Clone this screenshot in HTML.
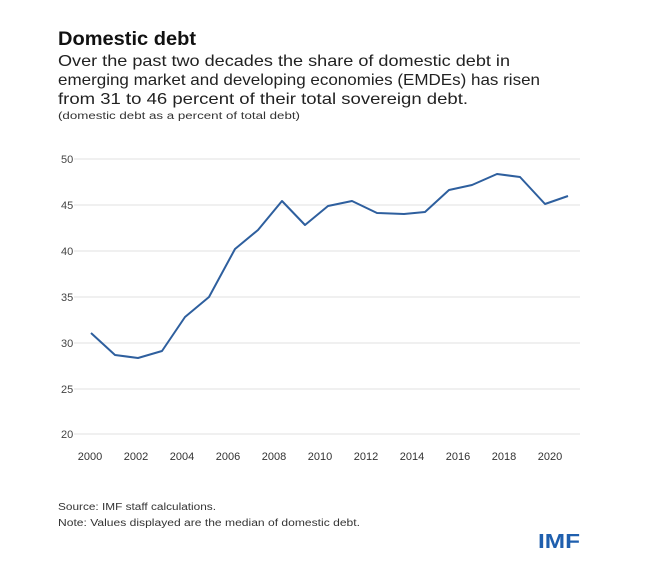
<!DOCTYPE html>
<html><head><meta charset="utf-8"><style>
body{margin:0;background:#fff;width:666px;height:575px;overflow:hidden;font-family:"Liberation Sans",sans-serif;color:#222}
svg text{font-family:"Liberation Sans",sans-serif}
</style></head><body>
<svg width="666" height="575" viewBox="0 0 666 575">
<text x="58" y="45" font-size="19" font-weight="bold" fill="#111" textLength="138" lengthAdjust="spacingAndGlyphs">Domestic debt</text>
<text x="58" y="66" font-size="16" fill="#222" textLength="452" lengthAdjust="spacingAndGlyphs">Over the past two decades the share of domestic debt in</text>
<text x="58" y="85" font-size="16" fill="#222" textLength="482" lengthAdjust="spacingAndGlyphs">emerging market and developing economies (EMDEs) has risen</text>
<text x="58" y="104" font-size="16" fill="#222" textLength="410" lengthAdjust="spacingAndGlyphs">from 31 to 46 percent of their total sovereign debt.</text>
<text x="58" y="119" font-size="10" fill="#333" textLength="242" lengthAdjust="spacingAndGlyphs">(domestic debt as a percent of total debt)</text>
<g stroke="#ececec" stroke-width="1.5">
<line x1="74" x2="580" y1="159" y2="159"/><line x1="74" x2="580" y1="205" y2="205"/>
<line x1="74" x2="580" y1="251" y2="251"/><line x1="74" x2="580" y1="297" y2="297"/>
<line x1="74" x2="580" y1="343" y2="343"/><line x1="74" x2="580" y1="389" y2="389"/>
<line x1="74" x2="580" y1="434" y2="434"/>
</g>
<g font-size="11" fill="#444">
<text x="61" y="163">50</text><text x="61" y="209">45</text><text x="61" y="255">40</text>
<text x="61" y="301">35</text><text x="61" y="347">30</text><text x="61" y="393">25</text><text x="61" y="438">20</text>
</g>
<g font-size="11" fill="#333" text-anchor="middle">
<text x="90" y="460">2000</text><text x="136" y="460">2002</text><text x="182" y="460">2004</text>
<text x="228" y="460">2006</text><text x="274" y="460">2008</text><text x="320" y="460">2010</text>
<text x="366" y="460">2012</text><text x="412" y="460">2014</text><text x="458" y="460">2016</text>
<text x="504" y="460">2018</text><text x="550" y="460">2020</text>
</g>
<polyline fill="none" stroke="#2e5f9e" stroke-width="2" stroke-linejoin="round" points="91,333 115,355 138,358 162,351 185,317 209,297 235,249 258,230 282,201 305,225 328,206 352,201 377,213 404,214 425,212 449,190 472,185 497,174 520,177 545,204 568,196"/>
<text x="58" y="510" font-size="10" fill="#333" textLength="158" lengthAdjust="spacingAndGlyphs">Source: IMF staff calculations.</text>
<text x="58" y="526" font-size="10" fill="#333" textLength="302" lengthAdjust="spacingAndGlyphs">Note: Values displayed are the median of domestic debt.</text>
<text x="538" y="548" font-size="20" font-weight="bold" fill="#1f5fae" textLength="42" lengthAdjust="spacingAndGlyphs">IMF</text>
</svg>
</body></html>
